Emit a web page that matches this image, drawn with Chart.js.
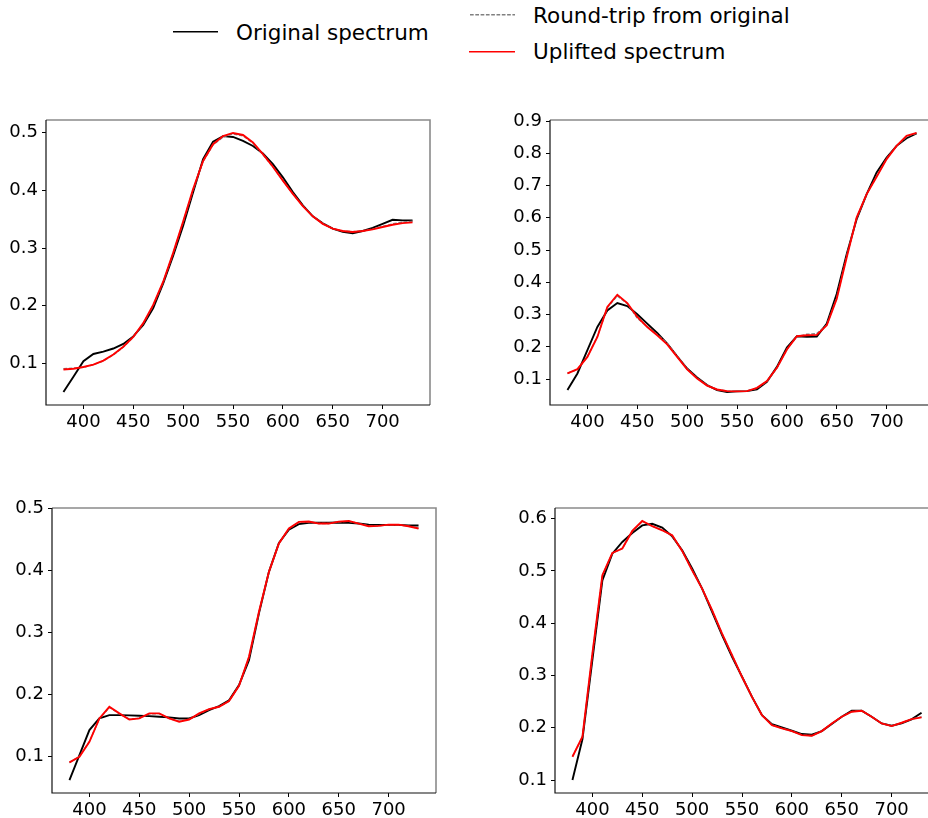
<!DOCTYPE html>
<html>
<head>
<meta charset="utf-8">
<title>Spectra</title>
<script src="https://cdn.jsdelivr.net/npm/chart.js@4.4.1/dist/chart.umd.min.js"></script>
<style>
  html, body { margin: 0; padding: 0; width: 928px; height: 818px; overflow: hidden; background: #fff; }
  body { position: relative; font-family: "DejaVu Sans", sans-serif; }
  canvas { position: absolute; }
  #legend { position: absolute; left: 0; top: 0; }
  #legend text { font-family: "DejaVu Sans", sans-serif; font-size: 21.5px; fill: #000; }
</style>
</head>
<body>
<svg id="legend" width="928" height="70">
  <line x1="173" y1="31.7" x2="218" y2="31.7" stroke="#000" stroke-width="1.6"/>
  <text x="236" y="39.5">Original spectrum</text>
  <line x1="470" y1="14.7" x2="515" y2="14.7" stroke="#808080" stroke-width="1.4" stroke-dasharray="3.7 1.6"/>
  <text x="533" y="23.3">Round-trip from original</text>
  <line x1="469" y1="51.7" x2="515" y2="51.7" stroke="#ff0000" stroke-width="1.6"/>
  <text x="533" y="58.5">Uplifted spectrum</text>
</svg>
<canvas id="plot1" width="438" height="345" style="left:2px;top:100px"></canvas>
<canvas id="plot2" width="438" height="345" style="left:506px;top:100px"></canvas>
<canvas id="plot3" width="438" height="345" style="left:8px;top:488px"></canvas>
<canvas id="plot4" width="438" height="345" style="left:511px;top:488px"></canvas>
<script>
// wavelengths (nm)
const wavelengths = [380, 390, 400, 410, 420, 430, 440, 450, 460, 470, 480, 490,
  500, 510, 520, 530, 540, 550, 560, 570, 580, 590, 600, 610,
  620, 630, 640, 650, 660, 670, 680, 690, 700, 710, 720, 730];

// tick labels
const xTicks = [400, 450, 500, 550, 600, 650, 700];
const yTicks1 = [0.1, 0.2, 0.3, 0.4, 0.5];
const yTicks2 = [0.1, 0.2, 0.3, 0.4, 0.5, 0.6, 0.7, 0.8, 0.9];
const yTicks3 = [0.1, 0.2, 0.3, 0.4, 0.5];
const yTicks4 = [0.1, 0.2, 0.3, 0.4, 0.5, 0.6];

// ---- plot 1 (oben links)
const original1 = [0.0506, 0.077, 0.104, 0.1166, 0.1207, 0.126, 0.134, 0.147, 0.167, 0.196, 0.239, 0.287,
  0.339, 0.397, 0.454, 0.4845, 0.494, 0.4926, 0.4857, 0.477, 0.464, 0.4455, 0.4226, 0.397,
  0.374, 0.355, 0.343, 0.3336, 0.328, 0.3256, 0.3296, 0.335, 0.342, 0.349, 0.348, 0.348];
const roundtrip1 = [0.091, 0.092, 0.0935, 0.098, 0.1045, 0.115, 0.1285, 0.1455, 0.1695, 0.201, 0.241, 0.291,
  0.345, 0.401, 0.450, 0.479, 0.4925, 0.498, 0.4945, 0.482, 0.462, 0.4405, 0.417, 0.394,
  0.373, 0.3555, 0.3425, 0.334, 0.3295, 0.3285, 0.3298, 0.333, 0.3375, 0.342, 0.345, 0.3465];
const uplifted1 = [0.0897, 0.091, 0.094, 0.098, 0.105, 0.1155, 0.129, 0.146, 0.170, 0.2016, 0.2418, 0.2917,
  0.346, 0.4025, 0.451, 0.480, 0.494, 0.4995, 0.496, 0.483, 0.4627, 0.441, 0.417, 0.394,
  0.3726, 0.355, 0.342, 0.3336, 0.3296, 0.328, 0.3296, 0.3324, 0.3365, 0.3405, 0.3433, 0.3445];

// ---- plot 2 (oben rechts)
const original2 = [0.066, 0.1175, 0.19, 0.2617, 0.313, 0.3358, 0.3266, 0.301, 0.272, 0.243, 0.210, 0.171,
  0.133, 0.105, 0.0815, 0.066, 0.060, 0.062, 0.063, 0.068, 0.092, 0.138, 0.198, 0.233,
  0.231, 0.232, 0.272, 0.3647, 0.488, 0.596, 0.6736, 0.7406, 0.787, 0.823, 0.8466, 0.862];
const roundtrip2 = [0.118, 0.130, 0.170, 0.232, 0.322, 0.358, 0.334, 0.289, 0.263, 0.238, 0.211, 0.172,
  0.132, 0.103, 0.081, 0.068, 0.063, 0.062, 0.063, 0.072, 0.093, 0.134, 0.192, 0.232,
  0.239, 0.241, 0.268, 0.352, 0.482, 0.600, 0.673, 0.729, 0.783, 0.823, 0.852, 0.862];
const uplifted2 = [0.1175, 0.131, 0.169, 0.2308, 0.3235, 0.3616, 0.3358, 0.2926, 0.2617, 0.236, 0.208, 0.169,
  0.130, 0.102, 0.080, 0.068, 0.063, 0.062, 0.063, 0.073, 0.094, 0.135, 0.1917, 0.233,
  0.236, 0.237, 0.2668, 0.349, 0.478, 0.6015, 0.6736, 0.727, 0.782, 0.823, 0.854, 0.863];

// ---- plot 3 (unten links)
const original3 = [0.0624, 0.1027, 0.143, 0.1617, 0.167, 0.167, 0.1666, 0.166, 0.1655, 0.1644, 0.1634, 0.1617,
  0.1617, 0.167, 0.175, 0.1816, 0.191, 0.2154, 0.2557, 0.331, 0.398, 0.4447, 0.466, 0.4748,
  0.477, 0.477, 0.477, 0.4775, 0.477, 0.4758, 0.474, 0.4737, 0.4737, 0.4737, 0.4726, 0.4726];
const roundtrip3 = [0.0905, 0.1005, 0.1245, 0.161, 0.1795, 0.1695, 0.1605, 0.162, 0.169, 0.1695, 0.1615, 0.157,
  0.1605, 0.169, 0.1765, 0.1805, 0.1895, 0.2145, 0.2605, 0.333, 0.398, 0.444, 0.4675, 0.478,
  0.4785, 0.476, 0.476, 0.4785, 0.4795, 0.476, 0.472, 0.4722, 0.4738, 0.4738, 0.4715, 0.468];
const uplifted3 = [0.0909, 0.100, 0.124, 0.1617, 0.1805, 0.1698, 0.160, 0.1617, 0.1698, 0.1698, 0.1617, 0.1564,
  0.160, 0.1698, 0.1768, 0.1805, 0.1897, 0.2144, 0.261, 0.3336, 0.398, 0.4436, 0.4678, 0.4785,
  0.479, 0.4758, 0.4758, 0.479, 0.480, 0.4758, 0.4715, 0.472, 0.474, 0.474, 0.4715, 0.4678];

// ---- plot 4 (unten rechts)
const original4 = [0.100, 0.178, 0.330, 0.482, 0.533, 0.5554, 0.5726, 0.587, 0.590, 0.583, 0.566, 0.5395,
  0.5045, 0.466, 0.4217, 0.377, 0.3357, 0.2975, 0.259, 0.224, 0.207, 0.2006, 0.1943, 0.188,
  0.1866, 0.1936, 0.207, 0.221, 0.2325, 0.2325, 0.221, 0.2083, 0.2038, 0.2083, 0.216, 0.2287];
const roundtrip4 = [0.145, 0.1825, 0.341, 0.491, 0.534, 0.543, 0.576, 0.5945, 0.5855, 0.578, 0.5675, 0.538,
  0.501, 0.466, 0.4245, 0.380, 0.339, 0.2975, 0.259, 0.224, 0.2052, 0.1988, 0.1937, 0.1862,
  0.1848, 0.1937, 0.2082, 0.2212, 0.2308, 0.2325, 0.2212, 0.2084, 0.2034, 0.2094, 0.2166, 0.2205];
const uplifted4 = [0.1446, 0.1828, 0.342, 0.4917, 0.5344, 0.5427, 0.5764, 0.5955, 0.5854, 0.5777, 0.568, 0.5382,
  0.501, 0.466, 0.4248, 0.380, 0.3389, 0.2975, 0.259, 0.224, 0.205, 0.1987, 0.1936, 0.186,
  0.1847, 0.1936, 0.2083, 0.221, 0.2306, 0.2325, 0.221, 0.2083, 0.2032, 0.2096, 0.2166, 0.2198];

document.addEventListener('DOMContentLoaded', () => {
  const tickFont = { family: '"DejaVu Sans", sans-serif', size: 18 };

  // Rahmen wie bei matplotlib
  const framePlugin = {
    id: 'frame',
    afterDraw(chart) {
      const { ctx, chartArea: a } = chart;
      ctx.save();
      ctx.strokeStyle = '#8a8a8a';
      ctx.lineWidth = 1.6;
      ctx.beginPath();
      ctx.moveTo(a.left, a.top);
      ctx.lineTo(a.right, a.top);
      ctx.lineTo(a.right, a.bottom);
      ctx.stroke();
      ctx.strokeStyle = '#111';
      ctx.lineWidth = 1.2;
      ctx.beginPath();
      ctx.moveTo(a.left, a.top);
      ctx.lineTo(a.left, a.bottom);
      ctx.lineTo(a.right, a.bottom);
      ctx.stroke();
      ctx.restore();
    }
  };

  function toPoints(values) {
    return wavelengths.map((w, i) => ({ x: w, y: values[i] }));
  }

  function padRange(lo, hi) {
    const m = (hi - lo) * 0.05;
    return [lo - m, hi + m];
  }

  function makeChart(id, original, roundtrip, uplifted, yTicks) {
    const all = original.concat(roundtrip, uplifted);
    const [yMin, yMax] = padRange(Math.min(...all), Math.max(...all));
    const [xMin, xMax] = padRange(wavelengths[0], wavelengths[wavelengths.length - 1]);

    return new Chart(document.getElementById(id), {
      type: 'line',
      data: {
        datasets: [
          { label: 'Uplifted spectrum', data: toPoints(uplifted), borderColor: '#ff0000', borderWidth: 1.9, order: 1 },
          { label: 'Round-trip from original', data: toPoints(roundtrip), borderColor: '#808080', borderWidth: 1.4, borderDash: [3.7, 1.6], order: 2 },
          { label: 'Original spectrum', data: toPoints(original), borderColor: '#000000', borderWidth: 1.9, order: 3 }
        ]
      },
      options: {
        responsive: false,
        animation: false,
        layout: { padding: { top: 20, right: 10, left: 0, bottom: 0 } },
        elements: { point: { radius: 0 }, line: { tension: 0, fill: false } },
        plugins: { legend: { display: false }, tooltip: { enabled: false } },
        scales: {
          x: {
            type: 'linear',
            min: xMin,
            max: xMax,
            afterBuildTicks: s => { s.ticks = xTicks.map(v => ({ value: v })); },
            afterFit: s => { s.height = 40; },
            ticks: { font: tickFont, color: '#000', padding: 3, autoSkip: false, maxRotation: 0, callback: v => String(v) },
            grid: { drawOnChartArea: false, drawTicks: true, tickLength: 4, color: '#000', lineWidth: 1 },
            border: { display: false }
          },
          y: {
            type: 'linear',
            min: yMin,
            max: yMax,
            afterBuildTicks: s => { s.ticks = yTicks.map(v => ({ value: v })); },
            afterFit: s => { s.width = 44; },
            ticks: { font: tickFont, color: '#000', padding: 4, autoSkip: false, callback: v => v.toFixed(1) },
            grid: { drawOnChartArea: false, drawTicks: true, tickLength: 4, color: '#000', lineWidth: 1 },
            border: { display: false }
          }
        }
      },
      plugins: [framePlugin]
    });
  }

  makeChart('plot1', original1, roundtrip1, uplifted1, yTicks1);
  makeChart('plot2', original2, roundtrip2, uplifted2, yTicks2);
  makeChart('plot3', original3, roundtrip3, uplifted3, yTicks3);
  makeChart('plot4', original4, roundtrip4, uplifted4, yTicks4);
});
</script>
</body>
</html>
